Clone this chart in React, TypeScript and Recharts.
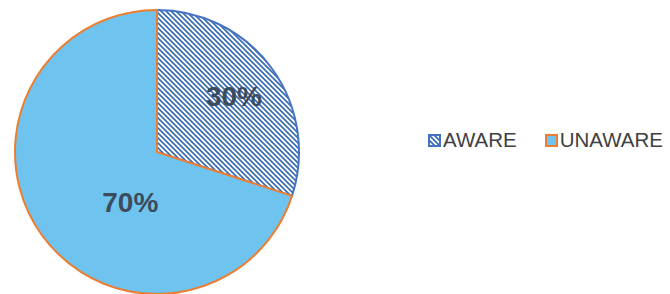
import React from 'react'
import { Cell, Legend, Pie, PieChart } from 'recharts'

// awareness split
const categories = ['AWARE', 'UNAWARE']
const shares = [30, 70]

const fills = ['url(#awareHatch)', '#6fc4ef']
const strokes = ['#4472c4', '#ed7d31']
// where Excel dropped the inside labels (fraction of radius, degrees off the mid angle)
const labelRadius = [0.67, 0.4]
const labelShift = [0, 26]

const data = categories.map((name, i) => ({ name, value: shares[i] }))

const RAD = Math.PI / 180

const renderLabel = (props: any) => {
  const { cx, cy, midAngle, outerRadius, percent, index } = props
  const r = outerRadius * labelRadius[index]
  const a = (midAngle + labelShift[index]) * RAD
  const x = cx + r * Math.cos(a)
  const y = cy - r * Math.sin(a)
  return (
    <text
      x={x}
      y={y}
      textAnchor="middle"
      dominantBaseline="central"
      fill="#3d4b5c"
      fontFamily="'Liberation Sans', Arial, sans-serif"
      fontWeight="bold"
      fontSize={28}
    >
      {`${Math.round(percent * 100)}%`}
    </text>
  )
}

const LegendContent = () => (
  <div style={{ display: 'flex', alignItems: 'center', fontFamily: "'Liberation Sans', Arial, sans-serif", fontSize: 20.5, color: '#404040' }}>
    {categories.map((c, i) => (
      <div key={c} style={{ display: 'flex', alignItems: 'center', marginRight: 28 }}>
        <svg width={13} height={13} style={{ marginRight: 2 }}>
          <rect x={1} y={1} width={11} height={11} fill={fills[i]} stroke={strokes[i]} strokeWidth={2} />
        </svg>
        <span>{c}</span>
      </div>
    ))}
  </div>
)

export default function App() {
  return (
    <div style={{ position: 'absolute', left: 0, top: 0, width: 670, height: 294, background: '#fff' }}>
      <PieChart width={670} height={294} margin={{ top: 0, right: 0, bottom: 0, left: 0 }}>
        <defs>
          <pattern id="awareHatch" width={5} height={5} patternUnits="userSpaceOnUse">
            <rect width={5} height={5} fill="#fff" />
            <path d="M0,0 L5,5 M-1,4 L1,6 M4,-1 L6,1" stroke="#3b6db3" strokeWidth={1.7} />
          </pattern>
        </defs>
        <Pie
          data={data}
          dataKey="value"
          nameKey="name"
          cx={157}
          cy={152}
          outerRadius={142}
          startAngle={90}
          endAngle={-270}
          label={renderLabel}
          labelLine={false}
          isAnimationActive={false}
        >
          {data.map((d, i) => (
            <Cell key={d.name} fill={fills[i]} stroke={strokes[i]} strokeWidth={2} />
          ))}
        </Pie>
        <Legend
          content={<LegendContent />}
          wrapperStyle={{ position: 'absolute', left: 428, top: 128, width: 260 }}
        />
      </PieChart>
    </div>
  )
}
